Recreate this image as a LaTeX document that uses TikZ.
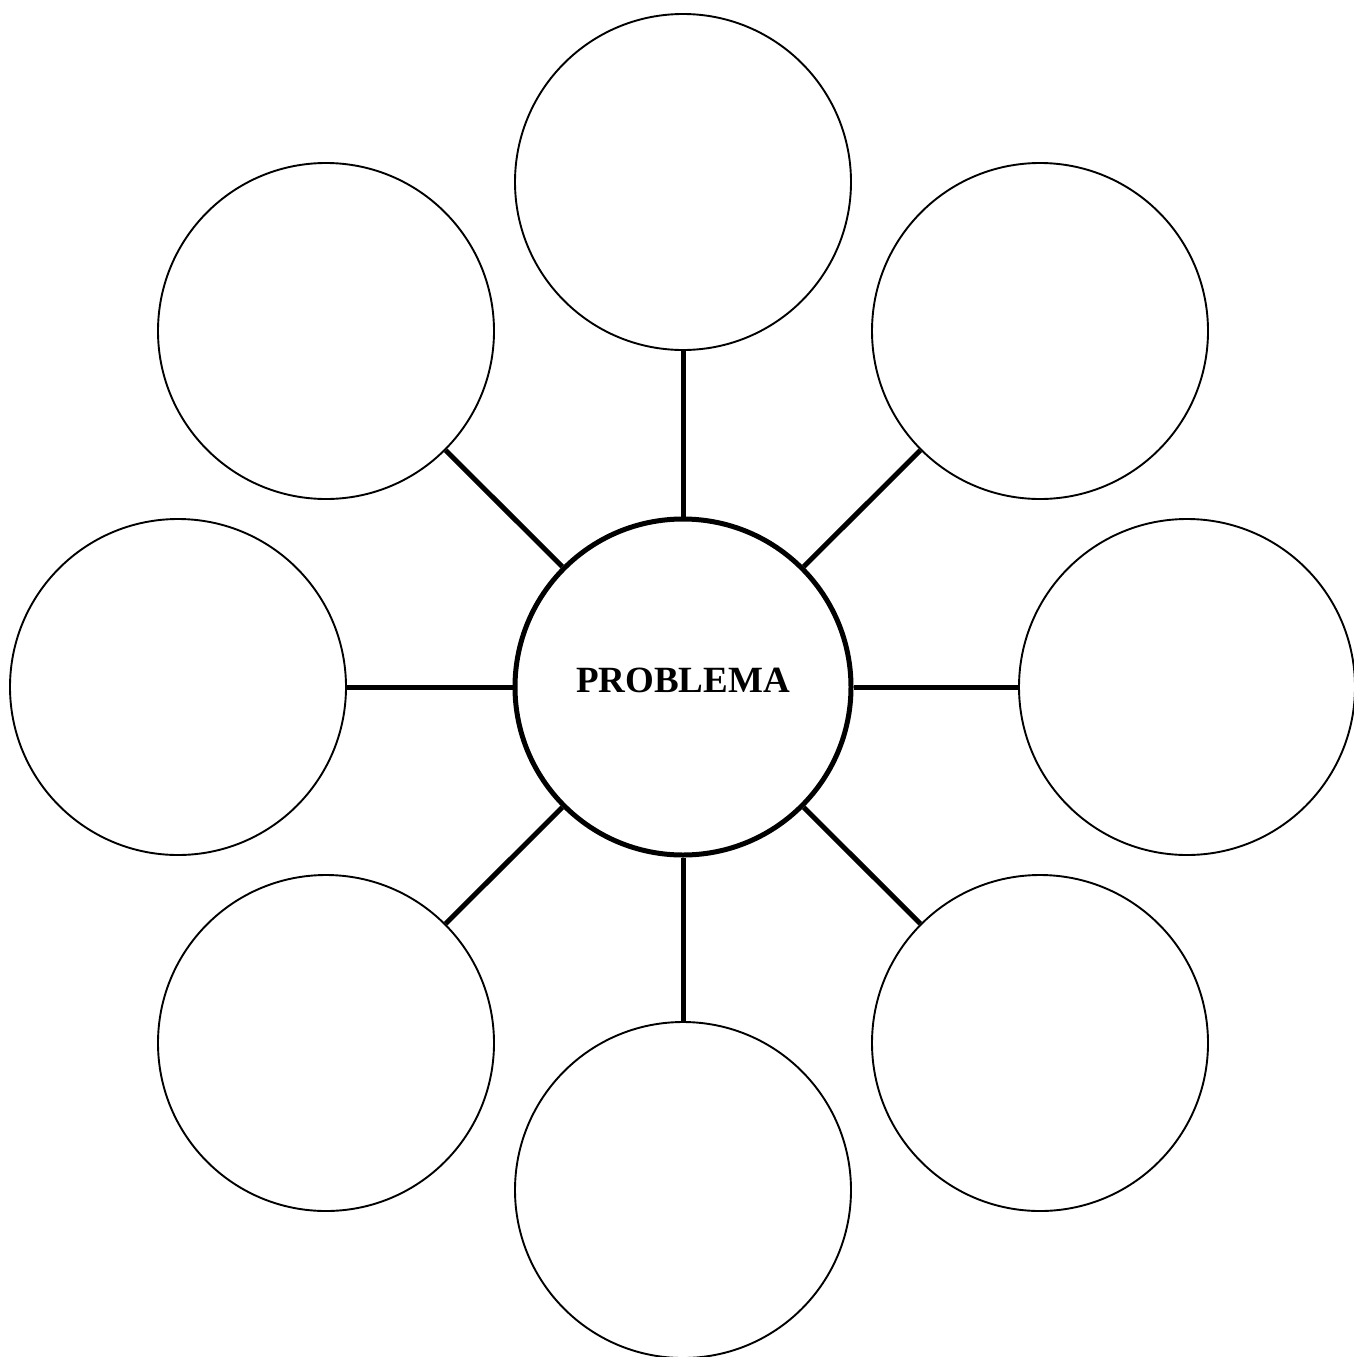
\documentclass[tikz,border=0pt]{standalone}
\usepackage{fontspec}
\setmainfont{Liberation Serif}
\begin{document}
\begin{tikzpicture}[x=1pt,y=-1pt,
  outer/.style={circle,draw=black,line width=1.9pt,minimum size=336pt,inner sep=0pt},
  hub/.style={circle,draw=black,line width=5pt,minimum size=336pt,inner sep=0pt},
  spoke/.style={line width=5pt}]
\useasboundingbox (0,0) rectangle (1354,1357);
\node[hub] (c) at (683,687) {};
\node[font=\fontsize{37}{40}\selectfont\bfseries,anchor=base] (t) at (683,692) {PROBLEMA};
\node[outer] (n) at (683,182) {};
\node[outer] (ne) at (1040,331) {};
\node[outer] (e) at (1187,687) {};
\node[outer] (se) at (1040,1043) {};
\node[outer] (s) at (683,1190) {};
\node[outer] (sw) at (326,1043) {};
\node[outer] (w) at (178,687) {};
\node[outer] (nw) at (326,331) {};
\foreach \n in {n,ne,e,se,s,sw,w,nw}{
  \draw[spoke] (c) -- (\n);
}
\end{tikzpicture}
\end{document}
